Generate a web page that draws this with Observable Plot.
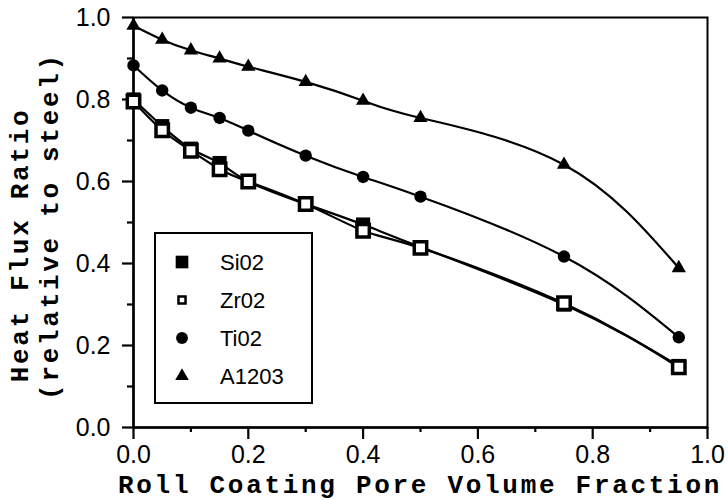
<!DOCTYPE html>
<html>
<head>
<meta charset="utf-8">
<script src="https://cdn.jsdelivr.net/npm/d3@7"></script>
<script src="https://cdn.jsdelivr.net/npm/@observablehq/plot@0.6"></script>
<style>
  html, body { margin: 0; padding: 0; background: #fff; }
  #chart { width: 728px; height: 500px; }
</style>
</head>
<body>
<div id="chart"></div>
<script>
// ---- data ----
const poreFraction = [0, 0.05, 0.1, 0.15, 0.2, 0.3, 0.4, 0.5, 0.75, 0.95];
const sio2  = [0.800, 0.735, 0.680, 0.645, 0.600, 0.545, 0.495, 0.440, 0.300, 0.150];
const zro2  = [0.795, 0.725, 0.675, 0.630, 0.600, 0.545, 0.480, 0.438, 0.303, 0.147];
const tio2  = [0.883, 0.822, 0.780, 0.755, 0.724, 0.663, 0.611, 0.563, 0.417, 0.220];
const al2o3 = [0.980, 0.946, 0.920, 0.900, 0.880, 0.843, 0.797, 0.755, 0.641, 0.389];
const seriesNames = ["Si02", "Zr02", "Ti02", "A1203"];
const majorTicks = [0, 0.2, 0.4, 0.6, 0.8, 1.0];
const minorTicks = [0.1, 0.3, 0.5, 0.7, 0.9];
const xTitle = "Roll Coating Pore Volume Fraction";
const yTitle1 = "Heat Flux Ratio";
const yTitle2 = "(relative to steel)";

const toRows = (vals, name) => vals.map((v, i) => ({x: poreFraction[i], y: v, series: name}));
const rowsSi = toRows(sio2, seriesNames[0]);
const rowsZr = toRows(zro2, seriesNames[1]);
const rowsTi = toRows(tio2, seriesNames[2]);
const rowsAl = toRows(al2o3, seriesNames[3]);

const fmt = d3.format(".1f");
const tickFont = "'Liberation Sans', Arial, sans-serif";
const titleFont = "'Liberation Mono', 'Courier New', monospace";
const curve = "natural";

const plot = Plot.plot({
  width: 728,
  height: 500,
  marginLeft: 133,
  marginRight: 21,
  marginTop: 17,
  marginBottom: 73,
  style: {fontFamily: tickFont, fontSize: "25px", color: "#000", background: "#fff"},
  x: {domain: [0, 1]},
  y: {domain: [0, 1]},
  marks: [
    Plot.frame({stroke: "#000", strokeWidth: 2}),
    Plot.axisY(majorTicks, {tickSize: 11, tickPadding: 12, tickFormat: fmt, strokeWidth: 2.2, label: null}),
    Plot.axisY(minorTicks, {tickSize: 6, tickFormat: () => "", strokeWidth: 2.2, label: null}),
    Plot.axisX(majorTicks, {tickSize: 12, tickPadding: 6, tickFormat: fmt, strokeWidth: 2.2, label: null}),
    Plot.axisX(minorTicks, {tickSize: 5, tickFormat: () => "", strokeWidth: 2.2, label: null}),
    Plot.ruleX([0], {strokeWidth: 2.5}),
    Plot.ruleY([0], {strokeWidth: 2.5}),
    Plot.line(rowsSi, {x: "x", y: "y", curve, stroke: "#000", strokeWidth: 2.2}),
    Plot.line(rowsZr, {x: "x", y: "y", curve, stroke: "#000", strokeWidth: 2.2}),
    Plot.line(rowsTi, {x: "x", y: "y", curve, stroke: "#000", strokeWidth: 2.2}),
    Plot.line(rowsAl, {x: "x", y: "y", curve, stroke: "#000", strokeWidth: 2.2}),
    Plot.dot(rowsSi, {x: "x", y: "y", symbol: "square", r: 8, fill: "#000", stroke: "none"}),
    Plot.dot(rowsZr, {x: "x", y: "y", symbol: "square", r: 7, fill: "#fff", stroke: "#000", strokeWidth: 3.5}),
    Plot.dot(rowsTi, {x: "x", y: "y", symbol: "circle", r: 6.2, fill: "#000", stroke: "none"}),
    Plot.dot(rowsAl, {x: "x", y: "y", symbol: "triangle", r: 5.3, fill: "#000", stroke: "none"})
  ]
});

document.getElementById("chart").appendChild(plot);

const svg = d3.select(plot);

svg.selectAll("text").each(function () {
  this.style.setProperty("font-size", "25px", "important");
  this.style.setProperty("font-family", tickFont, "important");
});

// ---- titles ----
const addTitle = (transform, text) => svg.append("text")
  .attr("transform", transform)
  .attr("text-anchor", "middle")
  .style("font-family", titleFont).style("font-weight", "bold")
  .style("font-size", "26px").style("letter-spacing", "2.7px")
  .text(text);
addTitle("translate(420,493)", xTitle);
addTitle("translate(28,245) rotate(-90)", yTitle1);
addTitle("translate(58,226) rotate(-90)", yTitle2);

// ---- legend ----
const lg = svg.append("g");
lg.append("rect").attr("x", 155).attr("y", 233).attr("width", 157).attr("height", 170)
  .attr("fill", "#fff").attr("stroke", "#000").attr("stroke-width", 2);
const legendSymbols = [
  {sym: d3.symbolSquare, size: 160, fill: "#000", stroke: "none", sw: 0},
  {sym: d3.symbolSquare, size: 50, fill: "#fff", stroke: "#000", sw: 2.5},
  {sym: d3.symbolCircle, size: 110, fill: "#000", stroke: "none", sw: 0},
  {sym: d3.symbolTriangle, size: 80, fill: "#000", stroke: "none", sw: 0}
];
const legendY = [262, 300, 338, 376];
seriesNames.forEach((name, i) => {
  const s = legendSymbols[i];
  lg.append("path")
    .attr("d", d3.symbol(s.sym, s.size)())
    .attr("transform", `translate(182,${legendY[i]})`)
    .attr("fill", s.fill).attr("stroke", s.stroke).attr("stroke-width", s.sw);
  lg.append("text")
    .attr("x", 220).attr("y", legendY[i] + 8)
    .attr("text-anchor", "start")
    .style("font-family", tickFont).style("font-size", "22px")
    .text(name);
});
</script>
</body>
</html>
